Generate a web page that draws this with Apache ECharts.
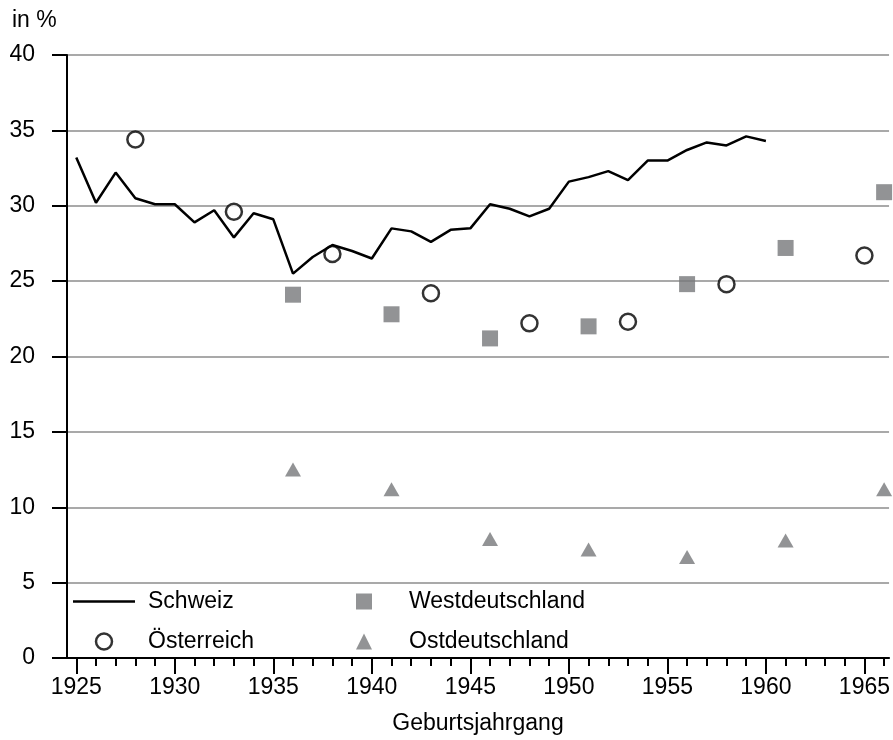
<!DOCTYPE html>
<html>
<head>
<meta charset="utf-8">
<script src="https://cdn.jsdelivr.net/npm/echarts@6/dist/echarts.min.js"></script>
<style>
html,body{margin:0;padding:0;background:#fff;}
#chart{width:893px;height:740px;}
</style>
</head>
<body>
<div id="chart"></div>
<script>
// ---- data ----
const schweizYears = [1925,1926,1927,1928,1929,1930,1931,1932,1933,1934,1935,1936,1937,1938,1939,1940,1941,1942,1943,1944,1945,1946,1947,1948,1949,1950,1951,1952,1953,1954,1955,1956,1957,1958,1959,1960];
const schweizValues = [33.2,30.2,32.2,30.5,30.1,30.1,28.9,29.7,27.9,29.5,29.1,25.5,26.6,27.4,27.0,26.5,28.5,28.3,27.6,28.4,28.5,30.1,29.8,29.3,29.8,31.6,31.9,32.3,31.7,33.0,33.0,33.7,34.2,34.0,34.6,34.3];
const oesterreichYears = [1928,1933,1938,1943,1948,1953,1958,1965];
const oesterreichValues = [34.4,29.6,26.8,24.2,22.2,22.3,24.8,26.7];
const westYears = [1936,1941,1946,1951,1956,1961,1966];
const westValues = [24.1,22.8,21.2,22.0,24.8,27.2,30.9];
const ostYears = [1936,1941,1946,1951,1956,1961,1966];
const ostValues = [12.5,11.2,7.9,7.2,6.7,7.8,11.2];
const xMajorTicks = [1925,1930,1935,1940,1945,1950,1955,1960,1965];
const xMinorTicks = [1925,1926,1927,1928,1929,1930,1931,1932,1933,1934,1935,1936,1937,1938,1939,1940,1941,1942,1943,1944,1945,1946,1947,1948,1949,1950,1951,1952,1953,1954,1955,1956,1957,1958,1959,1960,1961,1962,1963,1964,1965,1966];

const zip = (a, b) => a.map((v, i) => [v, b[i]]);
const FONT = "'Liberation Sans', Arial, sans-serif";
const FS = 23;
const GREY = '#77787b';

const chart = echarts.init(document.getElementById('chart'), null, {renderer: 'canvas'});
chart.setOption({
  animation: false,
  backgroundColor: '#fff',
  textStyle: {fontFamily: FONT},
  grid: {left: 67, right: 0, top: 55, bottom: 81, containLabel: false},
  graphic: [{
    type: 'text', left: 12, top: 9,
    style: {text: 'in %', font: FS + 'px ' + FONT, fill: '#000'}
  }],
  legend: [{
    data: [
      {name: 'Schweiz', icon: 'path://M0,0 L62,0 L62,2.5 L0,2.5 Z'},
      {name: 'Österreich', itemStyle: {color: '#fff', borderColor: '#000', borderWidth: 2.5}}
    ],
    orient: 'vertical', left: 73, top: 590, padding: 0,
    itemWidth: 62, itemHeight: 16, itemGap: 17,
    textStyle: {fontSize: FS, color: '#000', fontFamily: FONT, padding: [0,0,0,8]},
    selectedMode: false
  }, {
    data: ['Westdeutschland', 'Ostdeutschland'],
    orient: 'vertical', left: 356, top: 590, padding: 0,
    itemWidth: 16, itemHeight: 16, itemGap: 17,
    textStyle: {fontSize: FS, color: '#000', fontFamily: FONT, padding: [0,0,0,32]},
    selectedMode: false
  }],
  xAxis: [{
    type: 'value', min: 1924.53, max: 1966.25, position: 'bottom',
    name: 'Geburtsjahrgang', nameLocation: 'middle', nameGap: 54,
    nameTextStyle: {fontSize: FS, color: '#000', fontFamily: FONT},
    axisLine: {show: true, lineStyle: {color: '#000', width: 2}},
    axisTick: {show: true, customValues: xMajorTicks, length: 16, lineStyle: {color: '#000', width: 2}},
    axisLabel: {show: true, customValues: xMajorTicks, margin: 18, fontSize: FS, color: '#000', fontFamily: FONT,
      formatter: v => String(Math.round(v))},
    splitLine: {show: false}
  }, {
    type: 'value', min: 1924.53, max: 1966.25, position: 'bottom', gridIndex: 0,
    axisLine: {show: false},
    axisTick: {show: true, customValues: xMinorTicks, length: 8, lineStyle: {color: '#000', width: 2}},
    axisLabel: {show: false},
    splitLine: {show: false}
  }],
  yAxis: {
    type: 'value', min: 0, max: 40, interval: 5,
    axisLine: {show: true, lineStyle: {color: '#000', width: 2}},
    axisTick: {show: true, length: 15, lineStyle: {color: '#000', width: 2}},
    axisLabel: {margin: 32, fontSize: FS, color: '#000', fontFamily: FONT},
    splitLine: {show: true, lineStyle: {color: '#8c8c8c', width: 1.5}}
  },
  series: [{
    name: 'Westdeutschland', type: 'scatter', xAxisIndex: 0,
    symbol: 'rect', symbolSize: 16,
    itemStyle: {color: GREY},
    data: zip(westYears, westValues)
  }, {
    name: 'Ostdeutschland', type: 'scatter', xAxisIndex: 0,
    symbol: 'triangle', symbolSize: [16, 14],
    itemStyle: {color: GREY},
    data: zip(ostYears, ostValues)
  }, {
    name: 'Österreich', type: 'scatter', xAxisIndex: 0,
    symbol: 'circle', symbolSize: 16,
    itemStyle: {color: '#fff', borderColor: '#000', borderWidth: 2.5},
    data: zip(oesterreichYears, oesterreichValues)
  }, {
    name: 'Schweiz', type: 'line', xAxisIndex: 0,
    symbol: 'none', showSymbol: false,
    lineStyle: {color: '#000', width: 2.5},
    itemStyle: {color: '#000'},
    data: zip(schweizYears, schweizValues),
    z: 5
  }]
});
</script>
</body>
</html>
